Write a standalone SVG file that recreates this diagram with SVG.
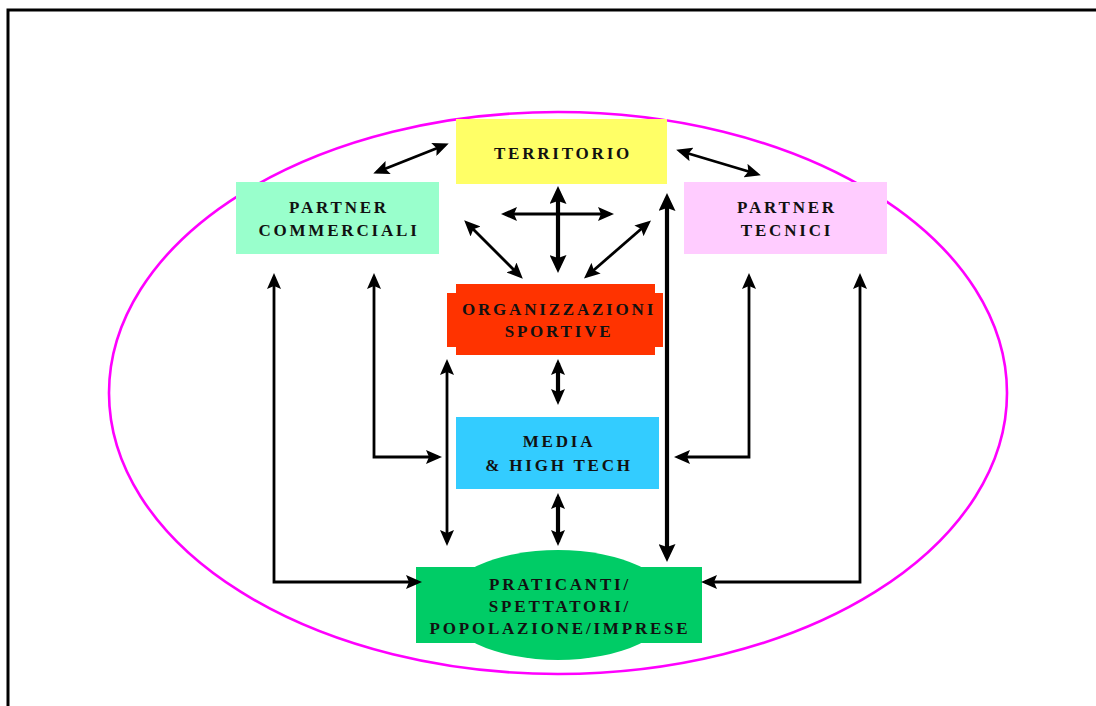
<svg xmlns="http://www.w3.org/2000/svg" width="1096" height="706" viewBox="0 0 1096 706">
<defs>
<style>
.lbl{font-family:"Liberation Serif","Times New Roman",serif;font-weight:bold;font-size:17px;letter-spacing:2.8px;fill:#111;text-anchor:middle}
.c{fill:none;stroke:#000;stroke-width:2.8}
.ct{fill:none;stroke:#000;stroke-width:4.2}
</style>
<marker id="ah" markerUnits="userSpaceOnUse" markerWidth="16" markerHeight="14" refX="12" refY="7" orient="auto-start-reverse" viewBox="0 0 16 14">
<path d="M0,0 L16,7 L0,14 L3,7 z" fill="#000"/>
</marker>
<marker id="ahb" markerUnits="userSpaceOnUse" markerWidth="18" markerHeight="17" refX="13" refY="8.5" orient="auto-start-reverse" viewBox="0 0 18 17">
<path d="M0,0 L18,8.5 L0,17 L3,8.5 z" fill="#000"/>
</marker>
</defs>
<rect width="1096" height="706" fill="#fff"/>
<path d="M8,706 V10 H1096" fill="none" stroke="#000" stroke-width="3"/>
<ellipse cx="558" cy="393" rx="449" ry="281" fill="none" stroke="#FF00FF" stroke-width="2.6"/>

<g id="territorio">
<rect x="456" y="119" width="211" height="65" fill="#FFFF66"/>
<text class="lbl" x="563" y="159">TERRITORIO</text>
</g>
<g id="partner-commerciali">
<rect x="236" y="182" width="203" height="72" fill="#99FFCC"/>
<text class="lbl" x="339" y="213">PARTNER</text>
<text class="lbl" x="339" y="236">COMMERCIALI</text>
</g>
<g id="partner-tecnici">
<rect x="684" y="182" width="203" height="72" fill="#FFCCFF"/>
<text class="lbl" x="787" y="213">PARTNER</text>
<text class="lbl" x="787" y="236">TECNICI</text>
</g>
<g id="organizzazioni-sportive">
<path d="M456,284 H655 V293 H663 V347 H655 V355 H456 V347 H447 V293 H456 z" fill="#FF3300"/>
<text class="lbl" x="559" y="315">ORGANIZZAZIONI</text>
<text class="lbl" x="559" y="337">SPORTIVE</text>
</g>
<g id="media-high-tech">
<rect x="456" y="417" width="203" height="72" fill="#33CCFF"/>
<text class="lbl" x="559" y="447">MEDIA</text>
<text class="lbl" x="559" y="471">&amp; HIGH TECH</text>
</g>
<g id="praticanti">
<ellipse cx="558" cy="605" rx="115" ry="55" fill="#00CC66"/>
<rect x="416" y="567" width="286" height="76" fill="#00CC66"/>
<text class="lbl" x="560" y="590">PRATICANTI/</text>
<text class="lbl" x="560" y="612">SPETTATORI/</text>
<text class="lbl" x="560" y="634">POPOLAZIONE/IMPRESE</text>
</g>

<g id="connectors">
<line class="c" x1="377" y1="172" x2="445" y2="145" marker-start="url(#ah)" marker-end="url(#ah)"/>
<line class="c" x1="680" y1="151" x2="757" y2="174" marker-start="url(#ah)" marker-end="url(#ah)"/>
<line class="c" x1="505" y1="214" x2="610" y2="214" marker-start="url(#ah)" marker-end="url(#ah)"/>
<line class="ct" x1="558" y1="191" x2="558" y2="268" marker-start="url(#ahb)" marker-end="url(#ahb)"/>
<line class="c" x1="467" y1="223" x2="520" y2="276" marker-start="url(#ah)" marker-end="url(#ah)"/>
<line class="c" x1="648" y1="223" x2="587" y2="276" marker-start="url(#ah)" marker-end="url(#ah)"/>
<line class="ct" x1="667" y1="198" x2="667" y2="557" marker-start="url(#ahb)" marker-end="url(#ahb)"/>
<line class="ct" x1="558" y1="363" x2="558" y2="401" marker-start="url(#ah)" marker-end="url(#ah)"/>
<line class="ct" x1="558" y1="497" x2="558" y2="542" marker-start="url(#ah)" marker-end="url(#ah)"/>
<line class="c" x1="447" y1="363" x2="447" y2="542" marker-start="url(#ah)" marker-end="url(#ah)"/>
<polyline class="c" points="274,277 274,582 418,582" marker-start="url(#ah)" marker-end="url(#ah)"/>
<polyline class="c" points="374,277 374,457 438,457" marker-start="url(#ah)" marker-end="url(#ah)"/>
<polyline class="c" points="749,277 749,457 678,457" marker-start="url(#ah)" marker-end="url(#ah)"/>
<polyline class="c" points="860,277 860,582 705,582" marker-start="url(#ah)" marker-end="url(#ah)"/>
</g>
</svg>
